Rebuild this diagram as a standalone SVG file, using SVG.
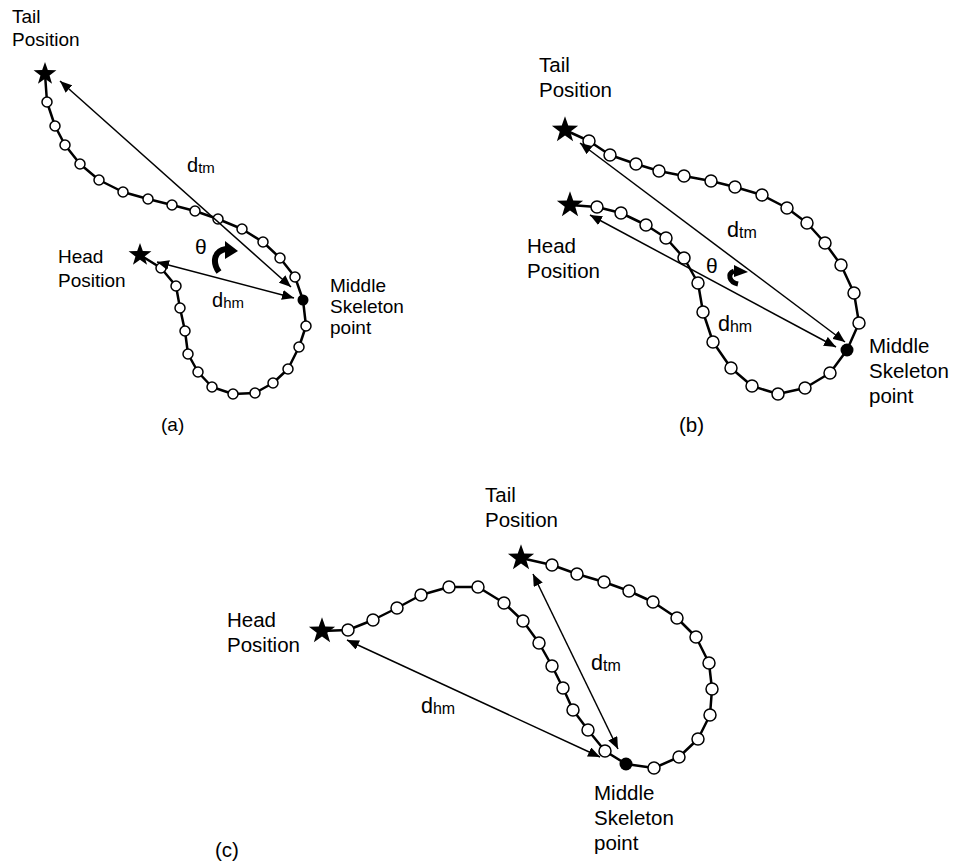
<svg xmlns="http://www.w3.org/2000/svg" xmlns:xlink="http://www.w3.org/1999/xlink" width="955" height="863" viewBox="0 0 955 863">
<style>
  text { font-family: "Liberation Sans", Arial, sans-serif; font-size: 19px; fill: #000; }
  .big { font-size: 20.5px; }
  .dA { font-size: 20px; }
  .dB { font-size: 21.5px; }
  .subA { font-size: 15px; }
  .subB { font-size: 16px; }
  .th { font-size: 21px; }
  .chain { fill: none; stroke: #000; stroke-width: 2.5; stroke-linejoin: round; }
  .pa { fill: #fff; stroke: #000; stroke-width: 1.5; }
  .mid { fill: #000; }
  .conn { stroke: #000; stroke-width: 1.5; fill: none; marker-start: url(#ah); marker-end: url(#ah); }
  .rot { fill: none; stroke: #000; stroke-linecap: butt; }
</style>
<defs>
  <marker id="ah" viewBox="0 0 12 10" refX="12" refY="5" markerWidth="12" markerHeight="10" markerUnits="userSpaceOnUse" orient="auto-start-reverse">
    <path d="M0,0 L12,5 L0,10 Z" fill="#000"/>
  </marker>
  <polygon id="star" points="0,-12 2.82,-3.88 11.41,-3.71 4.56,1.48 7.05,9.71 0,4.8 -7.05,9.71 -4.56,1.48 -11.41,-3.71 -2.82,-3.88" fill="#000"/>
</defs>
<rect width="955" height="863" fill="#fff"/>

<!-- ============ Panel (a) ============ -->
<g id="panel-a">
  <g id="a-body">
    <polyline class="chain" points="45,74 47,102 55,126 65,145 80,164 99,180 123,192 148,199 172,205 195,211 218,219 242,229 263,242 280,258 295,277 303,300 306,326 299,347 288,369 273,383 255,393 233,394 212,387 198,372 188,354 185,331 180,308 176,286 161,268 140,255"/>
    <g class="pa">
      <circle cx="47" cy="102" r="5"/><circle cx="55" cy="126" r="5"/><circle cx="65" cy="145" r="5"/>
      <circle cx="80" cy="164" r="5"/><circle cx="99" cy="180" r="5"/><circle cx="123" cy="192" r="5"/>
      <circle cx="148" cy="199" r="5"/><circle cx="172" cy="205" r="5"/><circle cx="195" cy="211" r="5"/>
      <circle cx="218" cy="219" r="5"/><circle cx="242" cy="229" r="5"/><circle cx="263" cy="242" r="5"/>
      <circle cx="280" cy="258" r="5"/><circle cx="295" cy="277" r="5"/>
      <circle cx="306" cy="326" r="5"/><circle cx="299" cy="347" r="5"/><circle cx="288" cy="369" r="5"/>
      <circle cx="273" cy="383" r="5"/><circle cx="255" cy="393" r="5"/><circle cx="233" cy="394" r="5"/>
      <circle cx="212" cy="387" r="5"/><circle cx="198" cy="372" r="5"/><circle cx="188" cy="354" r="5"/>
      <circle cx="185" cy="331" r="5"/><circle cx="180" cy="308" r="5"/><circle cx="176" cy="286" r="5"/>
      <circle cx="161" cy="268" r="5"/>
    </g>
  </g>
  <g id="a-tail">
    <use href="#star" x="45" y="74"/>
    <text x="12" y="23">Tail</text>
    <text x="12" y="46">Position</text>
  </g>
  <g id="a-head">
    <use href="#star" x="140" y="255"/>
    <text x="58" y="263">Head</text>
    <text x="58" y="287">Position</text>
  </g>
  <g id="a-middle">
    <circle class="mid" cx="303" cy="300" r="5.5"/>
    <text x="330" y="292">Middle</text>
    <text x="330" y="313">Skeleton</text>
    <text x="330" y="334">point</text>
  </g>
  <g id="a-connectors">
    <line class="conn" x1="60" y1="81" x2="291" y2="287"/>
    <line class="conn" x1="157" y1="262" x2="294" y2="298"/>
  </g>
  <g id="a-labels">
    <text class="dA" x="187" y="172">d<tspan class="subA" dy="1">tm</tspan></text>
    <text class="dA" x="212" y="307">d<tspan class="subA" dy="1">hm</tspan></text>
    <text class="th" x="195" y="254">θ</text>
    <path class="rot" stroke-width="6" d="M219,272 C212,262 214,251 226,249"/>
    <path d="M225,241 L238,251 L225,259 Z" fill="#000"/>
    <text x="161" y="431">(a)</text>
  </g>
</g>

<!-- ============ Panel (b) ============ -->
<g id="panel-b">
  <g id="b-body">
    <polyline class="chain" points="570,205 597,207 621,213 646,225 666,238 684,258 698,283 703,312 713,342 731,368 752,386 778,394 805,388 830,373 847,350 859,323 854,293 841,265 825,243 807,223 787,208 762,195 735,187 711,181 684,176 659,171 636,164 610,155 589,141 565,130"/>
    <g class="pa">
      <circle cx="597" cy="207" r="6"/><circle cx="621" cy="213" r="6"/><circle cx="646" cy="225" r="6"/>
      <circle cx="666" cy="238" r="6"/><circle cx="684" cy="258" r="6"/><circle cx="698" cy="283" r="6"/>
      <circle cx="703" cy="312" r="6"/><circle cx="713" cy="342" r="6"/><circle cx="731" cy="368" r="6"/>
      <circle cx="752" cy="386" r="6"/><circle cx="778" cy="394" r="6"/><circle cx="805" cy="388" r="6"/>
      <circle cx="830" cy="373" r="6"/>
      <circle cx="859" cy="323" r="6"/><circle cx="854" cy="293" r="6"/><circle cx="841" cy="265" r="6"/>
      <circle cx="825" cy="243" r="6"/><circle cx="807" cy="223" r="6"/><circle cx="787" cy="208" r="6"/>
      <circle cx="762" cy="195" r="6"/><circle cx="735" cy="187" r="6"/><circle cx="711" cy="181" r="6"/>
      <circle cx="684" cy="176" r="6"/><circle cx="659" cy="171" r="6"/><circle cx="636" cy="164" r="6"/>
      <circle cx="610" cy="155" r="6"/><circle cx="589" cy="141" r="6"/>
    </g>
  </g>
  <g id="b-tail">
    <use href="#star" x="565" y="130" transform="translate(565 130) scale(1.15) translate(-565 -130)"/>
    <text class="big" x="539" y="72">Tail</text>
    <text class="big" x="539" y="97">Position</text>
  </g>
  <g id="b-head">
    <use href="#star" x="570" y="205" transform="translate(570 205) scale(1.15) translate(-570 -205)"/>
    <text class="big" x="527" y="253">Head</text>
    <text class="big" x="527" y="278">Position</text>
  </g>
  <g id="b-middle">
    <circle class="mid" cx="847" cy="350" r="6.5"/>
    <text class="big" x="869" y="353">Middle</text>
    <text class="big" x="869" y="378">Skeleton</text>
    <text class="big" x="869" y="403">point</text>
  </g>
  <g id="b-connectors">
    <line class="conn" x1="580" y1="143" x2="845" y2="342"/>
    <line class="conn" x1="590" y1="215" x2="836" y2="347"/>
  </g>
  <g id="b-labels">
    <text class="dB" x="727" y="237">d<tspan class="subB" dy="1">tm</tspan></text>
    <text class="dB" x="718" y="331">d<tspan class="subB" dy="1">hm</tspan></text>
    <text class="th" x="706" y="273">θ</text>
    <path class="rot" stroke-width="5" d="M738,284 C729,282 727,274 734,271"/>
    <path d="M734,265 L748,272 L734,277 Z" fill="#000"/>
    <text class="big" x="679" y="432">(b)</text>
  </g>
</g>

<!-- ============ Panel (c) ============ -->
<g id="panel-c">
  <g id="c-body">
    <polyline class="chain" points="322,631 348,630 373,620 397,608 421,595 449,587 478,587 504,603 523,621 539,643 552,666 563,688 573,710 588,730 605,751 626,764 654,768 679,757 698,739 710,715 712,689 709,663 696,637 677,618 653,602 629,591 604,582 577,574 552,565 521,558"/>
    <g class="pa">
      <circle cx="348" cy="630" r="6"/><circle cx="373" cy="620" r="6"/><circle cx="397" cy="608" r="6"/>
      <circle cx="421" cy="595" r="6"/><circle cx="449" cy="587" r="6"/><circle cx="478" cy="587" r="6"/>
      <circle cx="504" cy="603" r="6"/><circle cx="523" cy="621" r="6"/><circle cx="539" cy="643" r="6"/>
      <circle cx="552" cy="666" r="6"/><circle cx="563" cy="688" r="6"/><circle cx="573" cy="710" r="6"/>
      <circle cx="588" cy="730" r="6"/><circle cx="605" cy="751" r="6"/>
      <circle cx="654" cy="768" r="6"/><circle cx="679" cy="757" r="6"/><circle cx="698" cy="739" r="6"/>
      <circle cx="710" cy="715" r="6"/><circle cx="712" cy="689" r="6"/><circle cx="709" cy="663" r="6"/>
      <circle cx="696" cy="637" r="6"/><circle cx="677" cy="618" r="6"/><circle cx="653" cy="602" r="6"/>
      <circle cx="629" cy="591" r="6"/><circle cx="604" cy="582" r="6"/><circle cx="577" cy="574" r="6"/>
      <circle cx="552" cy="565" r="6"/>
    </g>
  </g>
  <g id="c-tail">
    <use href="#star" x="521" y="558" transform="translate(521 558) scale(1.15) translate(-521 -558)"/>
    <text class="big" x="485" y="502">Tail</text>
    <text class="big" x="485" y="527">Position</text>
  </g>
  <g id="c-head">
    <use href="#star" x="322" y="631" transform="translate(322 631) scale(1.15) translate(-322 -631)"/>
    <text class="big" x="227" y="627">Head</text>
    <text class="big" x="227" y="652">Position</text>
  </g>
  <g id="c-middle">
    <circle class="mid" cx="626" cy="764" r="6.5"/>
    <text class="big" x="594" y="800">Middle</text>
    <text class="big" x="594" y="825">Skeleton</text>
    <text class="big" x="594" y="850">point</text>
  </g>
  <g id="c-connectors">
    <line class="conn" x1="533" y1="574" x2="618" y2="749"/>
    <line class="conn" x1="347" y1="640" x2="600" y2="757"/>
  </g>
  <g id="c-labels">
    <text class="dB" x="591" y="670">d<tspan class="subB" dy="1">tm</tspan></text>
    <text class="dB" x="421" y="713">d<tspan class="subB" dy="1">hm</tspan></text>
    <text class="big" x="215" y="857">(c)</text>
  </g>
</g>
</svg>
